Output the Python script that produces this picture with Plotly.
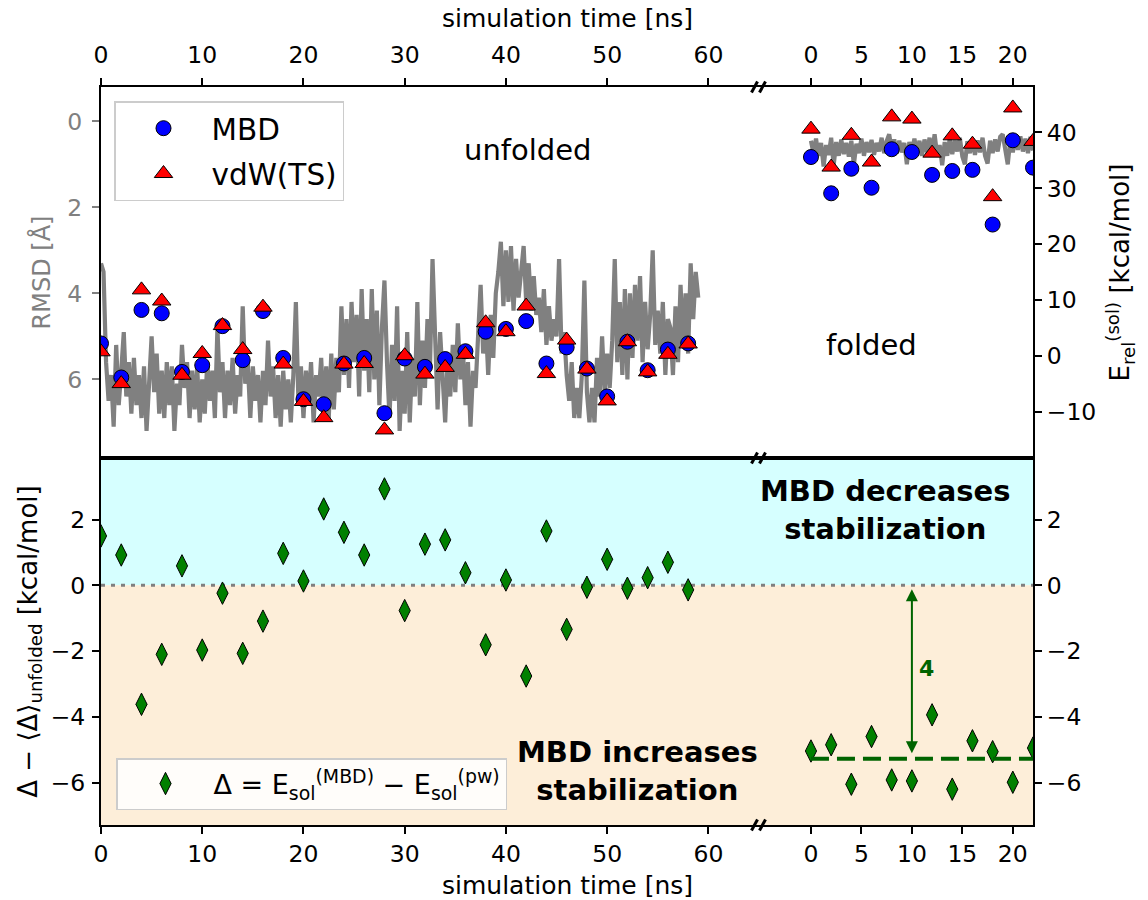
import numpy as np
import plotly.graph_objects as go

# ---------------- data ----------------
STEP = 0.25  # ns between RMSD samples
rmsd_unfolded = [
    3.3, 3.5, 5.6, 6.5, 5.9, 7.1, 5.2, 6.6, 5.8, 4.9, 6.4, 5.6, 6.8, 5.5, 6.6, 5.9,
    6.9, 5.7, 7.2, 6.0, 5.0, 6.3, 5.4, 6.8, 5.8, 6.9, 5.6, 6.6, 5.7, 7.2, 6.1, 6.6,
    5.2, 6.2, 5.6, 6.9, 5.8, 6.7, 5.7, 7.0, 6.0, 6.8, 5.6, 6.5, 5.8, 6.9, 4.8, 6.3,
    5.6, 6.9, 5.8, 6.6, 5.5, 6.8, 5.9, 6.4, 4.3, 6.1, 5.6, 6.9, 5.7, 6.5, 5.9, 7.0,
    5.8, 6.6, 5.1, 6.4, 5.7, 6.9, 5.9, 7.1, 5.8, 6.7, 6.0, 7.0, 5.9, 4.2, 6.5, 5.7,
    6.9, 5.8, 6.6, 5.6, 7.0, 5.9, 6.4, 5.5, 6.8, 5.7, 6.9, 5.4, 6.7, 5.5, 6.3, 4.3,
    5.9, 4.6, 6.2, 4.2, 5.6, 4.5, 6.4, 3.9, 5.8, 4.6, 6.3, 3.9, 6.0, 4.4, 6.6, 4.8,
    3.7, 5.6, 6.9, 5.2, 6.5, 4.3, 7.2, 5.8, 6.8, 4.9, 7.0, 5.5, 6.4, 4.2, 6.6, 5.1,
    6.2, 4.6, 5.7, 3.2, 5.4, 6.7, 4.9, 6.2, 7.0, 5.5, 6.4, 5.2, 6.3, 4.7, 6.0, 5.3,
    6.6, 5.6, 7.1, 5.8, 6.2, 5.0, 3.8, 5.4, 4.6, 5.9, 4.5, 5.5, 4.0, 3.5, 2.8, 4.3,
    3.0, 4.2, 2.9, 4.4, 3.2, 4.1, 3.4, 2.9, 4.2, 3.3, 4.4, 3.6, 4.5, 4.1, 4.9, 3.9,
    5.2, 4.3, 5.1, 4.6, 5.0, 3.2, 5.4, 4.9, 5.9, 6.5, 5.6, 6.9, 6.2, 6.9, 5.9, 3.7,
    6.3, 7.0, 6.2, 7.0, 5.5, 6.4, 5.0, 6.3, 5.4, 6.2, 5.1, 3.2, 5.6, 4.2, 5.9, 3.9,
    6.0, 4.0, 5.5, 3.8, 5.1, 3.6, 5.6, 4.2, 5.3, 4.5, 3.0, 5.2, 4.4, 5.4, 4.2, 5.9,
    4.6, 4.8, 5.9, 4.3, 5.6, 3.8, 5.2, 4.0, 5.4, 3.3, 4.6, 3.5, 4.1,
]
rmsd_folded = [
    0.45, 0.75, 0.40, 0.80, 0.50, 1.05, 0.55, 0.78, 0.38, 1.02, 0.48, 0.80, 0.42, 0.76,
    0.50, 0.82, 0.45, 1.00, 0.52, 0.74, 0.40, 0.80, 0.48, 0.72, 0.43, 0.78, 0.50, 0.70,
    0.38, 0.74, 0.46, 0.30, 0.68, 0.42, 0.75, 0.45, 0.72, 0.50, 1.00, 0.48, 0.70, 0.40,
    0.76, 0.45, 0.80, 0.42, 0.72, 0.38, 0.74, 0.30, 0.78, 0.55, 1.02, 0.48, 0.80, 0.40,
    0.76, 0.45, 0.70, 0.38, 0.82, 1.00, 0.46, 0.74, 0.40, 0.78, 0.44, 0.72, 0.38, 0.80,
    0.98, 0.45, 0.74, 0.42, 0.70, 0.36, 0.30, 0.68, 1.00, 0.42, 0.72, 0.38, 0.66, 0.35,
    0.70, 0.40, 0.74, 0.36, 0.68,
]
t_rmsd_unfolded = [i * STEP for i in range(len(rmsd_unfolded))]
t_rmsd_folded = [i * STEP for i in range(len(rmsd_folded))]

t_unfolded = list(range(0, 60, 2))
t_folded = list(range(0, 24, 2))

e_mbd_unfolded = [2.2, -3.9, 8.2, 7.6, -2.9, -1.7, 5.3, -0.8, 8.0, -0.4, -7.8, -8.7, -1.4, -0.4, -10.3,
                  -0.5, -2.0, -0.6, 0.8, 4.3, 4.8, 6.2, -1.4, 1.5, -2.3, -7.3, 2.5, -2.6, 1.1, 2.2]
e_vdw_unfolded = [0.7, -5.0, 11.8, 9.8, -3.5, 0.4, 5.4, 1.1, 8.7, -1.5, -8.2, -11.1, -1.5, -1.4, -13.3,
                  0.0, -3.3, -2.1, 0.25, 5.9, 4.3, 8.9, -3.2, 2.8, -2.4, -8.1, 2.5, -2.9, 0.25, 2.1]
e_mbd_folded = [35.6, 29.1, 33.5, 30.1, 37.0, 36.5, 32.4, 33.1, 33.3, 23.5, 38.6, 33.7]
e_vdw_folded = [40.6, 33.8, 39.5, 34.7, 42.8, 42.4, 36.3, 39.4, 37.9, 28.5, 44.4, 38.4]

delta_unfolded = [1.50, 0.92, -3.62, -2.10, 0.59, -1.97, -0.24, -2.07, -1.09, 0.97, 0.13, 2.32, 1.61, 0.92,
                  2.93, -0.77, 1.25, 1.38, 0.38, -1.81, 0.16, -2.76, 1.65, -1.34, -0.06, 0.79, -0.09,
                  0.23, 0.70, -0.14]
delta_folded = [-5.04, -4.85, -6.05, -4.60, -5.92, -5.95, -3.94, -6.20, -4.73, -5.06, -5.99, -4.95]
delta_folded_mean = float(np.mean(delta_folded))

# ---------------- geometry / style ----------------
W, H = 1148, 900
ML, MR, MT, MB = 101, 115, 87, 75
PW, PH = W - ML - MR, H - MT - MB
SX = (759 - ML) / PW          # column split (broken axis)
SY = (H - MB - 458) / PH      # row split

X_UNF_RANGE = [0, 65.0]
X_FOLD_RANGE = [-5.15, 22.0]
RMSD_RANGE = [7.83, -0.80]
E_RANGE = [-18.33, 48.15]
D_RANGE = [-7.29, 3.87]

FONT = "DejaVu Sans"
TICKFONT = dict(family=FONT, size=23.5, color="black")
common = dict(showgrid=False, zeroline=False, showline=True, linecolor="black", linewidth=2,
              ticks="outside", ticklen=7, tickwidth=1.5, tickcolor="black", tickfont=TICKFONT)

fig = go.Figure()

# RMSD traces
fig.add_trace(go.Scatter(x=t_rmsd_unfolded, y=rmsd_unfolded, mode="lines", xaxis="x", yaxis="y",
                         line=dict(color="#808080", width=4.2), showlegend=False, hoverinfo="skip"))
fig.add_trace(go.Scatter(x=t_rmsd_folded, y=rmsd_folded, mode="lines", xaxis="x2", yaxis="y2",
                         line=dict(color="#808080", width=4.2), showlegend=False, hoverinfo="skip"))

mk_line = dict(color="black", width=1)
# energy markers
fig.add_trace(go.Scatter(x=t_unfolded, y=e_mbd_unfolded, mode="markers", xaxis="x", yaxis="y3",
                         name="MBD", legend="legend", legendgroup="a",
                         marker=dict(symbol="circle", size=15, color="blue", line=mk_line)))
fig.add_trace(go.Scatter(x=t_unfolded, y=e_vdw_unfolded, mode="markers", xaxis="x", yaxis="y3",
                         name="vdW(TS)", legend="legend", legendgroup="b",
                         marker=dict(symbol="triangle-up", size=16, color="red", line=mk_line)))
fig.add_trace(go.Scatter(x=t_folded, y=e_mbd_folded, mode="markers", xaxis="x2", yaxis="y4",
                         showlegend=False,
                         marker=dict(symbol="circle", size=15, color="blue", line=mk_line)))
fig.add_trace(go.Scatter(x=t_folded, y=e_vdw_folded, mode="markers", xaxis="x2", yaxis="y4",
                         showlegend=False,
                         marker=dict(symbol="triangle-up", size=16, color="red", line=mk_line)))

# delta markers
fig.add_trace(go.Scatter(x=t_unfolded, y=delta_unfolded, mode="markers", xaxis="x3", yaxis="y5",
                         name="Δ = E<sub>sol</sub><sup>(MBD)</sup> − E<sub>sol</sub><sup>(pw)</sup>",
                         legend="legend2",
                         marker=dict(symbol="diamond-tall", size=16, color="green", line=mk_line)))
fig.add_trace(go.Scatter(x=t_folded, y=delta_folded, mode="markers", xaxis="x4", yaxis="y6",
                         showlegend=False,
                         marker=dict(symbol="diamond-tall", size=16, color="green", line=mk_line)))

# ---------------- shapes ----------------
shapes = [
    dict(type="rect", xref="paper", yref="y5", x0=0, x1=1, y0=0, y1=D_RANGE[1],
         fillcolor="#d6ffff", line=dict(width=0), layer="below"),
    dict(type="rect", xref="paper", yref="y5", x0=0, x1=1, y0=D_RANGE[0], y1=0,
         fillcolor="#fdeed9", line=dict(width=0), layer="below"),
    dict(type="line", xref="paper", yref="y5", x0=0, x1=1, y0=0, y1=0,
         line=dict(color="#808080", width=3, dash="4px,6px"), layer="below"),
    dict(type="line", xref="x4", yref="y6", x0=0, x1=X_FOLD_RANGE[1], y0=delta_folded_mean,
         y1=delta_folded_mean, line=dict(color="#006400", width=4, dash="18px,8px")),
]


def p2paper(px, py):
    return (px - ML) / PW, (H - MB - py) / PH


bx_px = ML + SX * PW
for by_px in (MT, 458, H - MB):
    for off in (-4.5, 3.5):
        x0, y0 = p2paper(bx_px + off - 3, by_px + 5.5)
        x1, y1 = p2paper(bx_px + off + 3, by_px - 5.5)
        shapes.append(dict(type="line", xref="paper", yref="paper", x0=x0, y0=y0, x1=x1, y1=y1,
                           line=dict(color="black", width=3)))

# ---------------- annotations ----------------
ann = [
    dict(text="unfolded", xref="x", yref="y", x=42.1, y=0.67, showarrow=False,
         font=dict(family=FONT, size=29, color="black")),
    dict(text="folded", xref="x2", yref="y2", x=6.0, y=5.2, showarrow=False,
         font=dict(family=FONT, size=29, color="black")),
    dict(text="<b>MBD decreases<br>stabilization</b>", xref="x4", yref="y6", x=7.3, y=2.29,
         showarrow=False, font=dict(family=FONT, size=29, color="black")),
    dict(text="<b>MBD increases<br>stabilization</b>", xref="x3", yref="y5", x=53.0, y=-5.64,
         showarrow=False, font=dict(family=FONT, size=29, color="black")),
    dict(text="<b>4</b>", xref="x4", yref="y6", x=11.4, y=-2.52, showarrow=False,
         font=dict(family=FONT, size=22, color="#006400")),
    dict(text="", xref="x4", yref="y6", x=10, y=0, axref="x4", ayref="y6", ax=10,
         ay=delta_folded_mean, showarrow=True, arrowside="end+start", arrowhead=2, startarrowhead=2,
         arrowsize=1.2, startarrowsize=1.2, arrowwidth=2, arrowcolor="#006400", standoff=4,
         startstandoff=4),
    dict(text="simulation time [ns]", xref="paper", yref="paper", x=0.5, y=(H - MB - 18) / PH,
         showarrow=False, font=dict(family=FONT, size=25, color="black"), yanchor="middle"),
    dict(text="simulation time [ns]", xref="paper", yref="paper", x=0.5, y=(H - MB - 885) / PH,
         showarrow=False, font=dict(family=FONT, size=25, color="black"), yanchor="middle"),
]

legend_common = dict(bgcolor="rgba(255,255,255,0.85)", bordercolor="#cccccc", borderwidth=1.5,
                     itemwidth=86, xanchor="left", tracegroupgap=4)

fig.update_layout(
    width=W, height=H, margin=dict(l=ML, r=MR, t=MT, b=MB),
    paper_bgcolor="white", plot_bgcolor="white",
    font=dict(family=FONT, color="black"),
    xaxis=dict(domain=[0, SX], range=X_UNF_RANGE, anchor="y", side="top", mirror=True, dtick=10,
               ticklabelstandoff=6, **common),
    xaxis2=dict(domain=[SX, 1], range=X_FOLD_RANGE, anchor="y2", side="top", mirror=True,
                tickvals=[0, 5, 10, 15, 20], ticklabelstandoff=6, **common),
    xaxis3=dict(domain=[0, SX], range=X_UNF_RANGE, anchor="y5", side="bottom", mirror=True, dtick=10, **common),
    xaxis4=dict(domain=[SX, 1], range=X_FOLD_RANGE, anchor="y6", side="bottom", mirror=True,
                tickvals=[0, 5, 10, 15, 20], **common),
    yaxis=dict(domain=[SY, 1], range=RMSD_RANGE, anchor="x", side="left",
               tickvals=[0, 2, 4, 6], showgrid=False, zeroline=False, showline=True, linecolor="black",
               linewidth=2, ticks="outside", ticklen=7, tickwidth=1.5, tickcolor="#808080",
               ticklabelstandoff=5,
               tickfont=dict(family=FONT, size=23.5, color="#808080"),
               title=dict(text="RMSD [Å]", font=dict(family=FONT, size=24, color="#808080"), standoff=10)),
    yaxis2=dict(domain=[SY, 1], range=RMSD_RANGE, anchor="x2", showline=False, showticklabels=False,
                ticks="", showgrid=False, zeroline=False),
    yaxis3=dict(overlaying="y", anchor="x", range=E_RANGE, visible=False, showgrid=False, zeroline=False),
    yaxis4=dict(overlaying="y2", anchor="x2", side="right", range=E_RANGE, dtick=10, **common,
                title=dict(text="E<sub>rel</sub><sup>(sol)</sup> [kcal/mol]",
                           font=dict(family=FONT, size=26, color="black"), standoff=16)),
    yaxis5=dict(domain=[0, SY], range=D_RANGE, anchor="x3", side="left", dtick=2, ticklabelstandoff=2,
                **common,
                title=dict(text="Δ − ⟨Δ⟩<sub>unfolded</sub> [kcal/mol]",
                           font=dict(family=FONT, size=26, color="black"), standoff=6)),
    yaxis6=dict(domain=[0, SY], range=D_RANGE, anchor="x4", side="right", dtick=2, **common),
    legend=dict(x=(114 - ML) / PW, y=(H - MB - 101) / PH, yanchor="top",
                font=dict(family=FONT, size=29.5, color="black"), **legend_common),
    legend2=dict(x=(116 - ML) / PW, y=(H - MB - 810) / PH, yanchor="bottom",
                 font=dict(family=FONT, size=27, color="black"), **legend_common),
    shapes=shapes,
    annotations=ann,
)

fig.write_html("out.html")
